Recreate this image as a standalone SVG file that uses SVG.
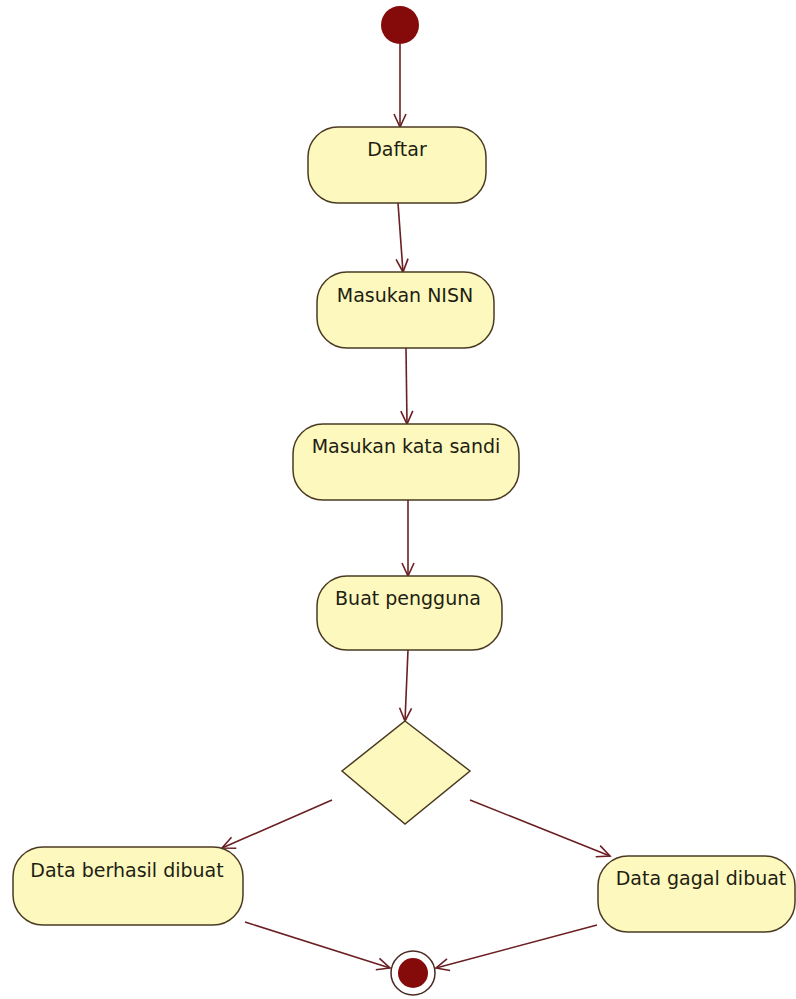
<svg xmlns="http://www.w3.org/2000/svg" width="796" height="999" viewBox="0 0 796 999">
  <style>
    .act { fill: #fdf8bd; stroke: #4a3a22; stroke-width: 1.5; }
    .lbl { font-family: "DejaVu Sans", Verdana, sans-serif; font-size: 19px; fill: #1e1e12; text-anchor: middle; }
    .con { stroke: #6b1f22; stroke-width: 1.6; fill: none; marker-end: url(#arr); }
  </style>
  <defs>
    <marker id="arr" markerUnits="userSpaceOnUse" markerWidth="20" markerHeight="20" refX="14" refY="10" orient="auto">
      <path d="M1,4 L14,10 L1,16" fill="none" stroke="#6b1f22" stroke-width="1.6"/>
    </marker>
  </defs>
  <rect width="796" height="999" fill="#ffffff"/>

  <g id="connectors">
    <line class="con" x1="400" y1="44" x2="400" y2="127"/>
    <line class="con" x1="398" y1="203" x2="403" y2="272"/>
    <line class="con" x1="406" y1="348" x2="407" y2="424"/>
    <line class="con" x1="408" y1="500" x2="408" y2="576"/>
    <line class="con" x1="408" y1="650" x2="405" y2="721"/>
    <line class="con" x1="332" y1="800" x2="222" y2="848"/>
    <line class="con" x1="470" y1="800" x2="610" y2="856"/>
    <line class="con" x1="245" y1="922" x2="390" y2="968"/>
    <line class="con" x1="597" y1="925" x2="436" y2="968"/>
  </g>

  <g id="start">
    <circle cx="400" cy="25" r="19" fill="#850a0a"/>
  </g>

  <g id="daftar">
    <rect class="act" x="308" y="127" width="178" height="76" rx="30" ry="30"/>
    <text class="lbl" x="397" y="156">Daftar</text>
  </g>

  <g id="masukan-nisn">
    <rect class="act" x="317" y="272" width="177" height="76" rx="30" ry="30"/>
    <text class="lbl" x="405" y="302">Masukan NISN</text>
  </g>

  <g id="masukan-kata-sandi">
    <rect class="act" x="293" y="424" width="226" height="76" rx="30" ry="30"/>
    <text class="lbl" x="406" y="453">Masukan kata sandi</text>
  </g>

  <g id="buat-pengguna">
    <rect class="act" x="317" y="576" width="185" height="74" rx="30" ry="30"/>
    <text class="lbl" x="408" y="605">Buat pengguna</text>
  </g>

  <g id="decision">
    <polygon class="act" points="405,721 470,771 405,824 342,771"/>
  </g>

  <g id="data-berhasil">
    <rect class="act" x="13" y="847" width="230" height="78" rx="30" ry="30"/>
    <text class="lbl" x="127" y="877">Data berhasil dibuat</text>
  </g>

  <g id="data-gagal">
    <rect class="act" x="598" y="856" width="197" height="76" rx="30" ry="30"/>
    <text class="lbl" x="701" y="885">Data gagal dibuat</text>
  </g>

  <g id="end">
    <circle cx="413" cy="973" r="22" fill="#ffffff" stroke="#4a2a22" stroke-width="1.5"/>
    <circle cx="413" cy="973" r="15" fill="#850a0a"/>
  </g>
</svg>
